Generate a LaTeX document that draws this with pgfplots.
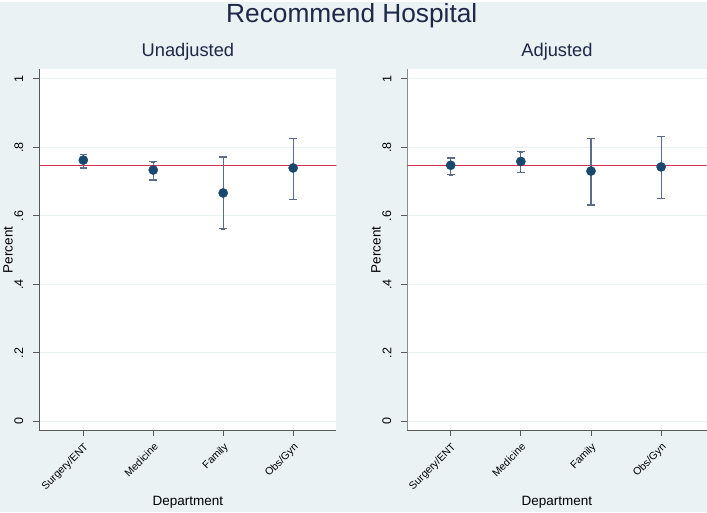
\documentclass[border=0pt]{standalone}
\usepackage{pgfplots}
\usepackage{pgfplotstable}
\pgfplotsset{compat=1.18}
\usepackage{fontspec}
\setmainfont{Liberation Sans}
\definecolor{bg}{RGB}{234,242,243}
\definecolor{navy}{RGB}{26,71,111}
\definecolor{errc}{RGB}{92,108,140}
\definecolor{redc}{RGB}{215,48,80}
\definecolor{ttl}{RGB}{30,40,72}

\pgfplotstableread{
x y hi lo
1 0.763 0.780 0.740
2 0.734 0.758 0.705
3 0.667 0.772 0.562
4 0.740 0.826 0.648
}\unadj
\pgfplotstableread{
x y hi lo
1 0.748 0.769 0.720
2 0.759 0.787 0.728
3 0.731 0.827 0.632
4 0.743 0.832 0.651
}\adj

\pgfplotsset{
  myax/.style={
    scale only axis, height=361.3pt, anchor=south west,
    ymin=-0.026, ymax=1.028,
    ytick={0,0.2,0.4,0.6,0.8,1}, yticklabels={0,.2,.4,.6,.8,1},
    xtick={1,2,3,4}, xticklabels={Surgery/ENT,Medicine,Family,Obs/Gyn},
    axis x line*=bottom, axis y line*=left,
    axis line style={-, line width=1pt, black!65},
    tick align=outside, major tick length=6pt,
    tick style={black!65, line width=0.9pt},
    ymajorgrids, major grid style={bg, line width=1pt},
    axis background/.style={fill=white},
    /pgf/number format/assume math mode=true,
    yticklabel style={rotate=90, anchor=south, inner xsep=0pt, inner ysep=10pt, font=\fontsize{12.5}{14}\selectfont},
    xticklabel style={rotate=45, anchor=north east, inner sep=4pt, font=\fontsize{10.5}{12}\selectfont},
    xlabel=Department, ylabel=Percent,
    xlabel style={at={(axis description cs:0.5,-0.2095)}, anchor=base, font=\fontsize{13.5}{15}\selectfont},
    title style={at={(axis description cs:0.5,1.0202)}, anchor=base, font=\fontsize{18.3}{20}\selectfont, text=ttl},
  }
}

\begin{document}
\begin{tikzpicture}[x=1pt,y=1pt]
\fill[bg] (0,0) rectangle (707,510);
\node[anchor=base, text=ttl, font=\fontsize{26.3}{29}\selectfont] at (352,490) {Recommend Hospital};

\begin{axis}[myax, at={(39.3pt,81.7pt)}, width=297.4pt, xmin=0.371, xmax=4.62,
  title=Unadjusted,
  ylabel style={at={(axis description cs:-0.1053,0.5)}, anchor=center, font=\fontsize{13.5}{15}\selectfont}]
\addplot[redc, line width=1.4pt] coordinates {(0,0.748) (5,0.748)};
\addplot[errc, only marks, mark=none, line width=1.1pt,
  error bars/.cd, y dir=both, y explicit,
  error bar style={errc, line width=1.1pt}]
  table[x=x, y=y, y error plus expr=\thisrow{hi}-\thisrow{y}, y error minus expr=\thisrow{y}-\thisrow{lo}] {\unadj};
\addplot[only marks, mark=-, mark size=3.8pt, errc, mark options={errc, line width=1.1pt}] table[x=x, y=hi] {\unadj};
\addplot[only marks, mark=-, mark size=3.8pt, errc, mark options={errc, line width=1.1pt}] table[x=x, y=lo] {\unadj};
\addplot[only marks, mark=*, mark size=4.6pt, navy, mark options={fill=navy, draw=navy}] table[x=x, y=y] {\unadj};
\end{axis}

\begin{axis}[myax, at={(407.7pt,81.7pt)}, width=299.3pt, xmin=0.383, xmax=4.647,
  title=Adjusted, y axis line style={black!45},
  ylabel style={at={(axis description cs:-0.1046,0.5)}, anchor=center, font=\fontsize{13.5}{15}\selectfont}]
\addplot[redc, line width=1.4pt] coordinates {(0,0.748) (5,0.748)};
\addplot[errc, only marks, mark=none, line width=1.1pt,
  error bars/.cd, y dir=both, y explicit,
  error bar style={errc, line width=1.1pt}]
  table[x=x, y=y, y error plus expr=\thisrow{hi}-\thisrow{y}, y error minus expr=\thisrow{y}-\thisrow{lo}] {\adj};
\addplot[only marks, mark=-, mark size=3.8pt, errc, mark options={errc, line width=1.1pt}] table[x=x, y=hi] {\adj};
\addplot[only marks, mark=-, mark size=3.8pt, errc, mark options={errc, line width=1.1pt}] table[x=x, y=lo] {\adj};
\addplot[only marks, mark=*, mark size=4.6pt, navy, mark options={fill=navy, draw=navy}] table[x=x, y=y] {\adj};
\end{axis}
\end{tikzpicture}
\end{document}
